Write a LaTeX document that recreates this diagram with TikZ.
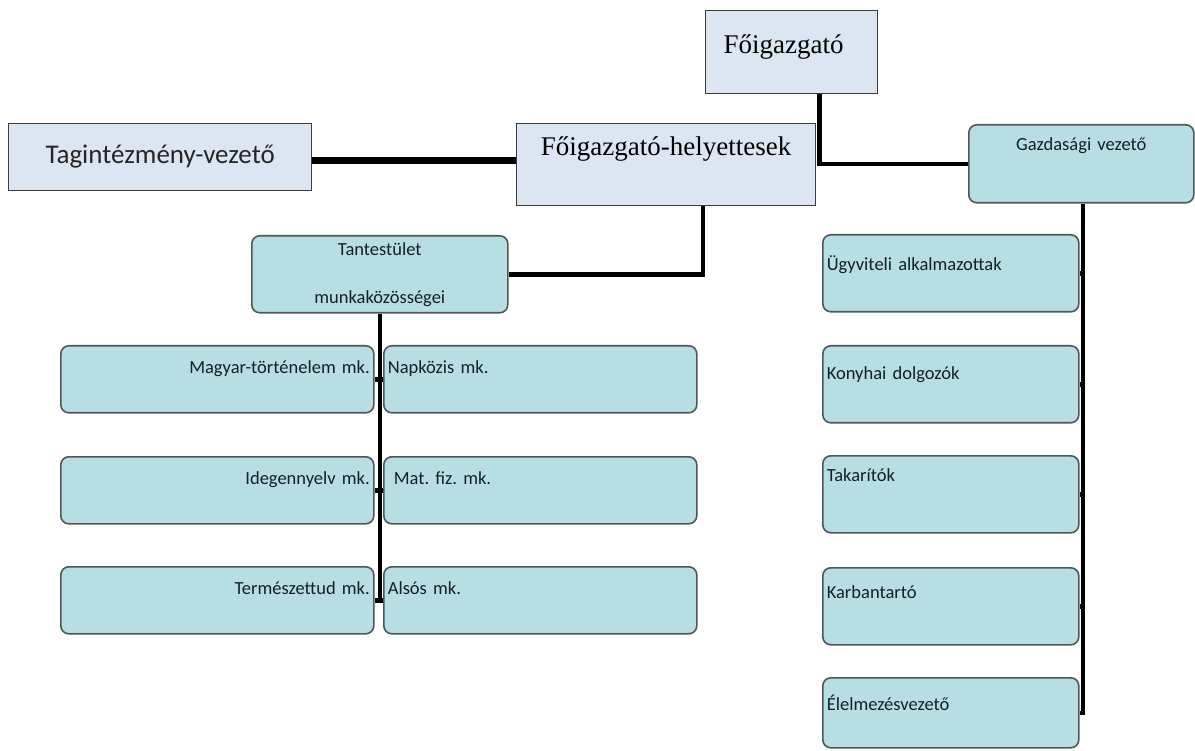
\documentclass[tikz,border=0pt]{standalone}
\usepackage{fontspec}
\setmainfont{Liberation Serif}
\newfontfamily\carlito{Carlito}
\usetikzlibrary{calc}
\frenchspacing

\definecolor{headfill}{RGB}{220,230,242}
\definecolor{headline}{RGB}{60,60,60}
\definecolor{tealfill}{RGB}{183,222,227}
\definecolor{tealline}{RGB}{78,88,90}
\definecolor{unittext}{RGB}{20,32,36}

\newcommand\headfont{\fontsize{27}{32}\selectfont}
\newcommand\unitfont{\fontsize{18.5}{22}\selectfont\carlito}

\begin{document}
\begin{tikzpicture}[
   x=1pt, y=-1pt,
   head/.style = {draw=headline, fill=headfill, line width=1.3pt, inner sep=0pt, anchor=north west},
   unit/.style = {draw=tealline, fill=tealfill, rounded corners=8pt, line width=1.6pt,
                  inner ysep=0pt, inner xsep=4pt, anchor=north west, font=\unitfont, text=unittext},
   leftunit/.style = {unit, text width=305pt, align=right, text height=28pt, text depth=39pt},
   rightunit/.style = {unit, text width=305pt, align=left, text height=28pt, text depth=39pt},
   staffunit/.style = {unit, text width=248pt, align=left, text height=34pt, text depth=43pt},
   link/.style = {line width=4.5pt},
   heavylink/.style = {line width=7pt}]
   \path[use as bounding box, fill=white] (0,0) rectangle (1195,751);

   % vezetes
   \node[head, font=\headfont, text width=136pt, inner xsep=18pt, align=left,
         text height=43pt, text depth=40pt] (fo) at (705,10) {Főigazgató};
   \node[head, font=\headfont, text width=299pt, align=center,
         text height=32pt, text depth=50pt] (helyettes) at (516,123) {Főigazgató-helyettesek};
   \node[head, font=\fontsize{27}{32}\selectfont\carlito, text=black!85, text width=303pt, align=center,
         text height=40pt, text depth=27pt] (tag) at (8,123) {Tagintézmény-vezető};
   \node[unit, text width=217pt, align=center,
         text height=26pt, text depth=52pt] (gazd) at (968,124) {Gazdasági vezető};

   % tantestulet
   \node[unit, text width=248pt, align=center, minimum height=77pt] (tantest) at (251,235)
        {Tantestület\\[26pt]munkaközösségei};
   \node[leftunit]  (magyar)  at (60,345)  {Magyar-történelem mk.};
   \node[rightunit] (napkozi) at (383,345) {Napközis mk.};
   \node[leftunit]  (idegen)  at (60,456)  {Idegennyelv mk.};
   \node[rightunit] (matfiz)  at (383,456) {\hspace*{6pt}Mat. fiz. mk.};
   \node[leftunit]  (termtud) at (60,566)  {Természettud mk.};
   \node[rightunit] (alsos)   at (383,566) {Alsós mk.};

   % gazdasagi dolgozok
   \node[staffunit, text height=36pt, text depth=41pt] (ugyv) at (822,234) {Ügyviteli alkalmazottak};
   \node[staffunit] (konyha) at (822,345) {Konyhai dolgozók};
   \node[staffunit, text height=26pt, text depth=51pt] (takar) at (822,455) {Takarítók};
   \node[staffunit, text height=31pt, text depth=46pt] (karban) at (822,567) {Karbantartó};
   \node[staffunit, text height=33pt, text depth=37pt] (elelm) at (822,677) {Élelmezésvezető};

   \draw[heavylink] ([yshift=-3pt]tag.east) -- ([yshift=-3pt]tag.east -| helyettes.west);
   \draw[link] ([xshift=3pt]fo.south -| helyettes.east) |- (gazd.west);
   \draw[link] ([xshift=37pt]helyettes.south) |- (tantest.east);

   \draw[link] (tantest.south) -- ([yshift=-2pt]tantest.south |- termtud.east);
   \draw[link] (magyar.east) -- (tantest.south |- magyar.east);
   \draw[link] (napkozi.west) -- (tantest.south |- napkozi.west);
   \draw[link] (idegen.east) -- (tantest.south |- idegen.east);
   \draw[link] (matfiz.west) -- (tantest.south |- matfiz.west);
   \draw[link] (termtud.east) -- (tantest.south |- termtud.east);
   \draw[link] (alsos.west) -- (tantest.south |- alsos.west);

   \draw[link] ([xshift=1.5pt]gazd.south) -- ([xshift=1.5pt,yshift=-2pt]gazd.south |- elelm.east);
   \draw[link] (ugyv.east) -- ([xshift=1.5pt]gazd.south |- ugyv.east);
   \draw[link] (konyha.east) -- ([xshift=1.5pt]gazd.south |- konyha.east);
   \draw[link] (takar.east) -- ([xshift=1.5pt]gazd.south |- takar.east);
   \draw[link] (karban.east) -- ([xshift=1.5pt]gazd.south |- karban.east);
   \draw[link] (elelm.east) -- ([xshift=1.5pt]gazd.south |- elelm.east);
\end{tikzpicture}
\end{document}
